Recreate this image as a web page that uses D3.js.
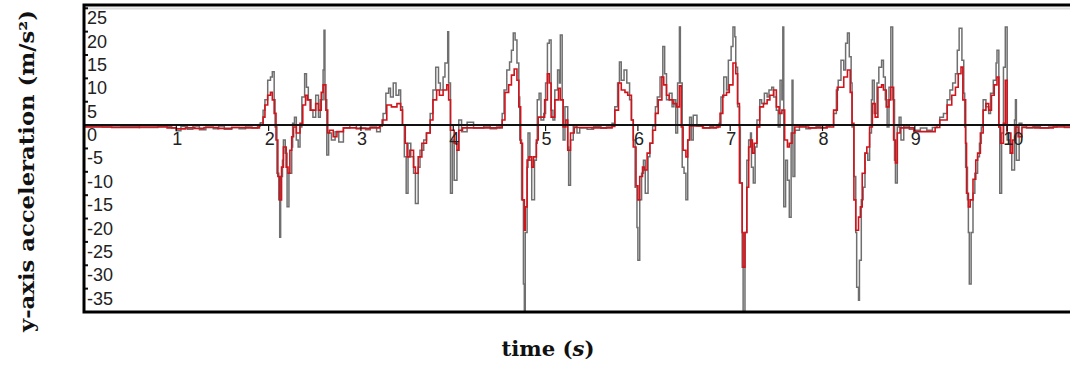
<!DOCTYPE html>
<html>
<head>
<meta charset="utf-8">
<script src="https://cdn.jsdelivr.net/npm/d3@7"></script>
<style>
  html, body { margin: 0; padding: 0; background: #fff; }
  svg { display: block; }
</style>
</head>
<body>
<div id="chartHolder"></div>
<script>
// y-axis acceleration trace, raw (gray) and filtered (red); [time s, m/s^2]
const rawSignal = [
  [0.00, -0.3], [0.20, -0.4], [0.40, -0.3], [0.60, -0.5], [0.80, -0.3], [0.95, -0.6], [1.00, -1.2],
  [1.05, -0.3], [1.12, -0.9], [1.18, -0.2], [1.25, -1.0], [1.32, -0.4], [1.40, -0.8], [1.46, -0.2],
  [1.52, -0.9], [1.60, -0.5], [1.68, -0.8], [1.75, -0.4], [1.82, -0.6], [1.88, -0.2], [1.91, 0.5],
  [1.94, 3.2], [1.96, 5.4], [1.99, 9.6], [2.02, 10.3], [2.04, 11.4], [2.06, 5.4], [2.07, -0.4],
  [2.09, -10.3], [2.11, -16], [2.12, -24], [2.13, -11], [2.15, -7.5], [2.16, -3.2], [2.18, -6],
  [2.20, -17.5], [2.22, -10.3], [2.25, -4.7], [2.26, 0.4], [2.28, 1.7], [2.30, -3.2], [2.32, -4.7],
  [2.34, -0.4], [2.36, 6], [2.39, 11], [2.41, 8.1], [2.43, 5.4], [2.46, 3.2], [2.48, 1.7],
  [2.51, 6.4], [2.54, 1.7], [2.56, 5.4], [2.59, 11.8], [2.60, 20.3], [2.61, 5.4], [2.63, -6.4],
  [2.65, -1.7], [2.68, -3.2], [2.72, -1.4], [2.76, -3.6], [2.81, -0.6], [2.88, 0], [2.95, -0.8],
  [2.99, -0.6], [3.05, -1.0], [3.10, -0.4], [3.17, -1.4], [3.21, 0], [3.24, 2.5], [3.27, 6.8],
  [3.30, 7.9], [3.32, 6], [3.35, 9], [3.38, 6.4], [3.41, 7.5], [3.43, 3.9], [3.45, 0],
  [3.47, -6.8], [3.49, -14.6], [3.51, -3.9], [3.54, -6.8], [3.57, -10.3], [3.59, -16.8], [3.62, -9],
  [3.64, -5.4], [3.68, -3.2], [3.71, -1.7], [3.75, 2.5], [3.78, 7.5], [3.81, 12.4], [3.84, 9],
  [3.86, 7.5], [3.89, 10.3], [3.91, 13.3], [3.94, 20], [3.95, 9], [3.97, -14.6], [3.99, -3.2],
  [4.01, -11.8], [4.04, -5.4], [4.06, 1.1], [4.09, -1.4], [4.15, 0.6], [4.22, -0.6], [4.33, -0.2],
  [4.40, -0.8], [4.47, -0.4], [4.51, -0.6], [4.53, 2.5], [4.55, 7.5], [4.58, 11.8], [4.61, 13.5],
  [4.63, 16], [4.65, 19.7], [4.67, 18.2], [4.69, 13.3], [4.71, 6], [4.72, -3.2], [4.74, -16],
  [4.76, -34], [4.77, -41], [4.78, -23], [4.80, -9], [4.81, -1.7], [4.83, -7.5], [4.85, -16],
  [4.88, -7.5], [4.90, -3.9], [4.91, 5.4], [4.93, 6.8], [4.95, 1.1], [4.98, 2.5], [5.00, 9],
  [5.02, 17.5], [5.04, 18.2], [5.06, 3.2], [5.08, 1.1], [5.10, 7.5], [5.13, 11.8], [5.15, 9],
  [5.16, 19.3], [5.18, 5.4], [5.19, -3.2], [5.21, 3.9], [5.24, -4.7], [5.25, -12.9], [5.27, -3.2],
  [5.30, -0.2], [5.34, -1.7], [5.37, -0.6], [5.45, -0.9], [5.52, -0.3], [5.60, -0.7], [5.66, -0.4],
  [5.72, 0.4], [5.75, 3.9], [5.78, 9], [5.80, 13.5], [5.82, 9.6], [5.85, 11.8], [5.88, 9],
  [5.91, 5.4], [5.93, 1.1], [5.95, -3.2], [5.97, -13.3], [5.99, -21.9], [6.00, -28.9], [6.02, -16],
  [6.04, -10.3], [6.06, -7.5], [6.08, -14.6], [6.11, -6.8], [6.13, -3.9], [6.16, -0.2], [6.19, 3.9],
  [6.21, 6], [6.24, 10.3], [6.27, 16.8], [6.29, 11], [6.31, 5.4], [6.34, 6.8], [6.37, 3.9],
  [6.39, 5.4], [6.41, -1.7], [6.43, 9], [6.45, 21], [6.46, 9], [6.48, -9], [6.50, -10.3],
  [6.52, -16], [6.54, -3.2], [6.56, 1.7], [6.58, -3.2], [6.60, 2.1], [6.64, -0.2], [6.71, -0.6],
  [6.78, -0.3], [6.82, -0.5], [6.87, 0], [6.88, 0.4], [6.90, 6], [6.93, 10.3], [6.96, 7.5],
  [6.98, 13.9], [7.01, 16.8], [7.03, 21], [7.05, 18.9], [7.06, 12.4], [7.08, 3.9], [7.10, -0.4],
  [7.11, -12.4], [7.13, -30.4], [7.14, -41], [7.16, -23], [7.18, -7.5], [7.20, -3.2], [7.22, -1.7],
  [7.23, -9], [7.25, -12.4], [7.27, -4.7], [7.29, 1.1], [7.32, 5.4], [7.34, 4.6], [7.37, 6.8],
  [7.40, 6], [7.42, 7.5], [7.45, 8.1], [7.47, 6], [7.50, 3.2], [7.52, -0.4], [7.54, 9.6],
  [7.56, 5.4], [7.57, 21], [7.58, -17.5], [7.60, -7.5], [7.62, -11.8], [7.64, -19.7], [7.66, -1.7],
  [7.67, 9.6], [7.68, -11], [7.70, -1.1], [7.75, -0.2], [7.82, -0.8], [7.87, -0.6], [7.93, -0.3],
  [7.98, -0.5], [8.04, -0.2], [8.08, 0], [8.12, 2.5], [8.15, 7.5], [8.17, 9.6], [8.20, 13.9],
  [8.23, 11.8], [8.25, 17.5], [8.27, 19.7], [8.29, 14.6], [8.31, 9], [8.32, -0.4], [8.34, -11],
  [8.36, -23], [8.37, -34.7], [8.39, -37.5], [8.40, -28.9], [8.42, -16], [8.44, -13.3], [8.46, -6],
  [8.49, -7.5], [8.51, -1.7], [8.53, 5.4], [8.54, 9.6], [8.56, 2.5], [8.59, 9], [8.61, 12.4],
  [8.64, 13.9], [8.66, 10.3], [8.68, 5.4], [8.70, -0.4], [8.72, 8.1], [8.74, 21], [8.76, 5.4],
  [8.78, -7.5], [8.79, -12.4], [8.81, -0.4], [8.83, 1.7], [8.85, -3.2], [8.88, -0.2], [8.94, -0.9],
  [8.99, -1.1], [9.06, -0.6], [9.13, -1.1], [9.19, -0.5], [9.24, 0], [9.27, 1.7], [9.31, 2.5],
  [9.35, 5.4], [9.38, 7.5], [9.41, 9], [9.44, 11], [9.46, 16], [9.48, 20.7], [9.51, 13.9],
  [9.53, 6.8], [9.54, -0.4], [9.55, -9], [9.57, -16], [9.58, -23], [9.59, -34], [9.61, -23],
  [9.63, -14.6], [9.65, -10.3], [9.68, -6.8], [9.70, -3.9], [9.72, -0.4], [9.74, 5.4], [9.77, 3.9],
  [9.80, 2.5], [9.82, 6.8], [9.85, 9.6], [9.88, 13.3], [9.89, 16], [9.91, -0.4], [9.92, -14.6],
  [9.94, -1.7], [9.96, 12.4], [9.98, 21], [10.00, -3.2], [10.03, -6], [10.05, -9.6], [10.08, 1.1],
  [10.09, 5.4], [10.10, -7.5], [10.13, 0.4], [10.16, -0.2], [10.21, -0.6], [10.28, -0.3], [10.36, -0.6],
  [10.45, -0.4], [10.54, -0.2], [10.62, -0.5], [10.70, -0.3]
];

const filteredSignal = [
  [0.00, -0.4], [0.30, -0.5], [0.60, -0.4], [0.90, -0.6], [1.00, -0.8], [1.10, -0.6], [1.20, -0.7],
  [1.30, -0.5], [1.45, -0.7], [1.60, -0.5], [1.75, -0.6], [1.90, 0.1], [1.94, 1.7], [1.96, 4.3],
  [1.99, 6.4], [2.02, 7], [2.04, 5.4], [2.06, 2.5], [2.08, -3.2], [2.10, -11], [2.12, -16],
  [2.14, -9], [2.16, -4.7], [2.19, -9], [2.21, -10.3], [2.23, -5.4], [2.25, -2.5], [2.27, -0.4],
  [2.30, -1.7], [2.34, 0.4], [2.37, 4.3], [2.40, 6.4], [2.42, 5.4], [2.45, 3.2], [2.48, 3.2],
  [2.51, 4.6], [2.54, 3.2], [2.57, 7], [2.59, 8.6], [2.62, 3.2], [2.64, -1.7], [2.66, -1.1],
  [2.70, -2.5], [2.74, -1.4], [2.81, -0.6], [2.95, -0.7], [3.10, -0.6], [3.20, -0.2], [3.23, 1.1],
  [3.28, 4.3], [3.33, 3.9], [3.39, 4.6], [3.43, 3.2], [3.45, 0], [3.48, -3.9], [3.50, -6.8],
  [3.53, -5.4], [3.57, -9], [3.59, -10.3], [3.62, -6.8], [3.66, -3.9], [3.71, -1.7], [3.75, 1.1],
  [3.78, 5.4], [3.82, 7.5], [3.85, 6.4], [3.89, 7.5], [3.93, 8.6], [3.95, 5.4], [3.97, -1.1],
  [4.01, -3.9], [4.04, -5.4], [4.06, -1.1], [4.10, -0.6], [4.30, -0.6], [4.50, -0.5], [4.53, 1.1],
  [4.56, 7], [4.60, 8.6], [4.63, 10.7], [4.66, 12], [4.69, 9.6], [4.71, 3.9], [4.73, -3.9],
  [4.75, -16], [4.77, -22.5], [4.78, -17.5], [4.80, -7.5], [4.82, -6.8], [4.85, -9], [4.87, -6.8],
  [4.90, -3.2], [4.92, 1.7], [4.95, 1.7], [4.99, 5.4], [5.02, 11], [5.04, 9], [5.06, 1.7],
  [5.10, 5.4], [5.14, 7.9], [5.16, 5.4], [5.19, -0.4], [5.22, 1.1], [5.24, -5.4], [5.27, -1.7],
  [5.31, -0.5], [5.50, -0.6], [5.72, -0.3], [5.75, 3.2], [5.79, 9], [5.82, 7.5], [5.86, 7],
  [5.89, 6.4], [5.93, 1.1], [5.95, -4.7], [5.98, -13], [6.00, -16], [6.02, -11], [6.05, -9],
  [6.07, -9.6], [6.10, -6], [6.13, -3.9], [6.16, -1.1], [6.19, 2.5], [6.22, 5.4], [6.26, 10.3],
  [6.28, 8.6], [6.31, 6.4], [6.34, 5.4], [6.38, 4.6], [6.42, 3.9], [6.45, 8.4], [6.47, -0.4],
  [6.49, -5.4], [6.52, -6.8], [6.54, -3.2], [6.56, -0.2], [6.70, -0.6], [6.85, -0.4], [6.89, 2.5],
  [6.92, 6.4], [6.96, 7], [6.99, 8.6], [7.03, 13.3], [7.06, 11], [7.08, 4.6], [7.10, -12.4],
  [7.13, -23], [7.14, -30.4], [7.16, -23], [7.18, -13.3], [7.20, -4.7], [7.22, -3.2], [7.24, -6],
  [7.26, -3.9], [7.29, -0.4], [7.32, 3.9], [7.36, 4.6], [7.40, 5.4], [7.43, 6.4], [7.47, 7.5],
  [7.50, 3.9], [7.53, 2.5], [7.56, 3.2], [7.59, -3.2], [7.62, -4.7], [7.64, -3.9], [7.67, -1.7],
  [7.70, -0.4], [7.85, -0.6], [8.05, -0.4], [8.12, 3.2], [8.16, 8.1], [8.20, 8.1], [8.23, 10.3],
  [8.27, 11.8], [8.30, 7], [8.32, 0.4], [8.34, -16], [8.36, -22.5], [8.39, -19.7], [8.41, -17.5],
  [8.43, -10.3], [8.46, -6], [8.48, -4.7], [8.51, -0.4], [8.54, 4.6], [8.57, 1.7], [8.60, 8.1],
  [8.64, 8.6], [8.66, 7.5], [8.69, 3.9], [8.72, 5.4], [8.74, 8.1], [8.77, -3.2], [8.79, -8.1],
  [8.81, -1.7], [8.84, -0.6], [8.99, -1.4], [9.13, -1.4], [9.22, -0.5], [9.27, 1.1], [9.35, 4.3],
  [9.40, 6.4], [9.44, 8.1], [9.47, 11], [9.50, 12.4], [9.52, 5.4], [9.55, -3.9], [9.56, -14.6],
  [9.58, -17.5], [9.60, -16], [9.63, -11.6], [9.66, -7.5], [9.68, -6], [9.71, -1.7], [9.74, 3.2],
  [9.77, 4.6], [9.80, 3.2], [9.83, 6.4], [9.86, 8.6], [9.89, 10.3], [9.91, -0.4], [9.93, -3.9],
  [9.96, 0.4], [9.98, 9.6], [10.00, -1.7], [10.04, -6], [10.06, -3.2], [10.09, -0.4], [10.12, -2.5],
  [10.16, -0.5], [10.30, -0.6], [10.50, -0.4], [10.70, -0.5]
];

const yTicks = [25, 20, 15, 10, 5, 0, -5, -10, -15, -20, -25, -30, -35];
const xTicks = [1, 2, 3, 4, 5, 6, 7, 8, 9, 10];
const yDomain = [-40, 25.7];
const xDomain = [0, 10.67];
const xTitle = 'time (';
const yTitle = 'y-axis acceleration (m/s²)';

drawChart();

function drawChart() {
  const W = 1070, H = 365;
  const plot = {left: 84, top: 5, right: 1069, bottom: 312};

  const svg = d3.select('#chartHolder').append('svg')
    .attr('width', W)
    .attr('height', H);

  const x = d3.scaleLinear().domain(xDomain).range([plot.left, plot.right]);
  const y = d3.scaleLinear().domain(yDomain).range([plot.bottom, plot.top]);

  svg.append('defs').append('clipPath').attr('id', 'plotClip')
    .append('rect')
    .attr('x', plot.left).attr('y', plot.top)
    .attr('width', plot.right - plot.left + 10).attr('height', plot.bottom - plot.top);

  // faint shadow under the top frame
  svg.append('line')
    .attr('x1', plot.left).attr('x2', W)
    .attr('y1', plot.top + 3.5).attr('y2', plot.top + 3.5)
    .attr('stroke', '#dcdcdc').attr('stroke-width', 2);

  const line = d3.line()
    .x(d => x(d[0]))
    .y(d => y(d[1]))
    .curve(d3.curveStepAfter);

  const g = svg.append('g').attr('clip-path', 'url(#plotClip)');

  g.append('path')
    .datum(rawSignal)
    .attr('d', line)
    .attr('fill', 'none')
    .attr('stroke', '#6f6f6f')
    .attr('stroke-width', 1.5);

  g.append('path')
    .datum(filteredSignal)
    .attr('d', line)
    .attr('fill', 'none')
    .attr('stroke', '#d0141c')
    .attr('stroke-width', 1.6);

  // zero line
  svg.append('line')
    .attr('x1', plot.left).attr('x2', W)
    .attr('y1', y(0)).attr('y2', y(0))
    .attr('stroke', '#111').attr('stroke-width', 2);

  // x ticks sit on the zero line
  const xg = svg.append('g').attr('font-family', '"Liberation Sans", Arial, sans-serif')
    .attr('font-size', 18).attr('fill', '#222');
  xTicks.forEach(t => {
    xg.append('line')
      .attr('x1', x(t)).attr('x2', x(t))
      .attr('y1', y(0)).attr('y2', y(0) + 6)
      .attr('stroke', '#111').attr('stroke-width', 1.2);
    xg.append('text')
      .attr('x', x(t) - 4)
      .attr('y', y(0) + 20)
      .text(t);
  });

  // y ticks on the left frame, labels just below each tick
  const yg = svg.append('g').attr('font-family', '"Liberation Sans", Arial, sans-serif')
    .attr('font-size', 18).attr('fill', '#222');
  yTicks.forEach(v => {
    yg.append('line')
      .attr('x1', plot.left).attr('x2', plot.left + 4)
      .attr('y1', y(v)).attr('y2', y(v))
      .attr('stroke', '#111').attr('stroke-width', 2);
    yg.append('text')
      .attr('x', plot.left + 3)
      .attr('y', y(v) + 16)
      .text(v);
  });

  // frame
  svg.append('rect')
    .attr('x', plot.left).attr('y', plot.top)
    .attr('width', plot.right - plot.left + 20).attr('height', plot.bottom - plot.top)
    .attr('fill', 'none')
    .attr('stroke', '#000')
    .attr('stroke-width', 3);

  // axis titles
  const xt = svg.append('text')
    .attr('x', 548).attr('y', 356)
    .attr('text-anchor', 'middle')
    .attr('font-family', '"DejaVu Serif", "Liberation Serif", serif')
    .attr('font-weight', 'bold')
    .attr('font-size', 20)
    .attr('fill', '#111')
    .attr('textLength', 93)
    .attr('lengthAdjust', 'spacingAndGlyphs');
  xt.append('tspan').text(xTitle);
  xt.append('tspan').attr('font-style', 'italic').text('s');
  xt.append('tspan').text(')');

  svg.append('text')
    .attr('transform', 'translate(34,171) rotate(-90)')
    .attr('text-anchor', 'middle')
    .attr('font-family', '"DejaVu Serif", "Liberation Serif", serif')
    .attr('font-weight', 'bold')
    .attr('font-size', 20)
    .attr('fill', '#111')
    .attr('textLength', 322)
    .attr('lengthAdjust', 'spacingAndGlyphs')
    .text(yTitle);
}
</script>
</body>
</html>
